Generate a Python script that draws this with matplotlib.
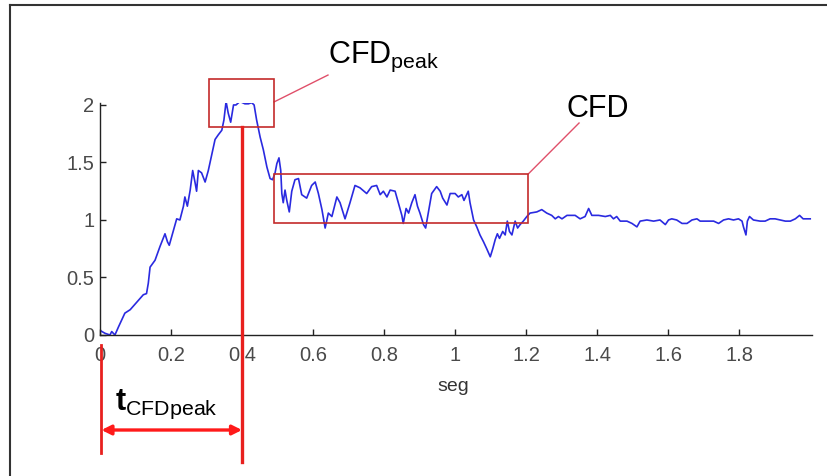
import matplotlib
matplotlib.use("Agg")
import matplotlib.pyplot as plt
from matplotlib.patches import Rectangle, FancyArrowPatch
from matplotlib.lines import Line2D

plt.rcParams['font.family'] = ['Liberation Sans', 'DejaVu Sans']
plt.rcParams['mathtext.fontset'] = 'custom'
plt.rcParams['mathtext.rm'] = 'Liberation Sans'
plt.rcParams['mathtext.it'] = 'Liberation Sans:italic'
plt.rcParams['mathtext.bf'] = 'Liberation Sans:bold'

# ---- data ----
t = [0.0, 0.014, 0.028, 0.033, 0.042, 0.052, 0.07, 0.085, 0.108, 0.122, 0.131, 0.136,
     0.141, 0.155, 0.169, 0.183, 0.19, 0.195, 0.207, 0.216, 0.225, 0.235, 0.239, 0.246,
     0.254, 0.261, 0.268, 0.272, 0.277, 0.286, 0.296, 0.305, 0.315, 0.324, 0.333, 0.343,
     0.349, 0.355, 0.361, 0.368, 0.376, 0.383, 0.394, 0.408, 0.418, 0.427, 0.434, 0.441,
     0.451, 0.46, 0.47, 0.479, 0.486, 0.493, 0.498, 0.504, 0.509, 0.512, 0.516, 0.521,
     0.526, 0.533, 0.54, 0.549, 0.559, 0.568, 0.582, 0.596, 0.606, 0.615, 0.625, 0.634,
     0.643, 0.653, 0.667, 0.676, 0.69, 0.704, 0.718, 0.732, 0.751, 0.765, 0.779, 0.789,
     0.798, 0.808, 0.817, 0.831, 0.84, 0.85, 0.854, 0.862, 0.869, 0.878, 0.887, 0.894,
     0.901, 0.911, 0.917, 0.925, 0.934, 0.948, 0.958, 0.965, 0.977, 0.986, 1.0, 1.009,
     1.019, 1.025, 1.037, 1.042, 1.052, 1.061, 1.07, 1.08, 1.089, 1.099, 1.106, 1.113,
     1.119, 1.125, 1.134, 1.141, 1.147, 1.153, 1.16, 1.169, 1.176, 1.183, 1.192, 1.202,
     1.211, 1.23, 1.244, 1.258, 1.272, 1.282, 1.291, 1.301, 1.315, 1.338, 1.352, 1.366,
     1.376, 1.385, 1.404, 1.423, 1.437, 1.446, 1.455, 1.465, 1.484, 1.498, 1.512, 1.521,
     1.54, 1.559, 1.577, 1.592, 1.601, 1.61, 1.624, 1.639, 1.653, 1.667, 1.681, 1.69,
     1.709, 1.728, 1.742, 1.756, 1.77, 1.784, 1.798, 1.808, 1.812, 1.819, 1.823, 1.829,
     1.84, 1.859, 1.873, 1.887, 1.901, 1.915, 1.93, 1.944, 1.958, 1.97, 1.98, 1.989, 2.0]
cfd = [0.04, 0.015, 0.0, 0.03, 0.0, 0.07, 0.19, 0.22, 0.30, 0.35, 0.36, 0.45,
       0.59, 0.65, 0.77, 0.88, 0.81, 0.78, 0.91, 1.01, 1.00, 1.12, 1.20, 1.12,
       1.26, 1.43, 1.32, 1.25, 1.43, 1.41, 1.33, 1.43, 1.57, 1.70, 1.74, 1.78,
       1.87, 2.03, 1.93, 1.85, 2.0, 2.0, 2.03, 2.01, 2.01, 2.02, 2.0, 1.87,
       1.72, 1.61, 1.46, 1.36, 1.35, 1.41, 1.49, 1.54, 1.43, 1.23, 1.15, 1.26,
       1.17, 1.07, 1.25, 1.35, 1.36, 1.22, 1.19, 1.30, 1.33, 1.23, 1.09, 0.93,
       1.06, 1.03, 1.20, 1.15, 1.01, 1.15, 1.30, 1.28, 1.23, 1.29, 1.30, 1.22,
       1.25, 1.20, 1.26, 1.25, 1.15, 1.04, 0.97, 1.10, 1.06, 1.15, 1.22, 1.12,
       1.06, 0.96, 0.93, 1.07, 1.23, 1.29, 1.25, 1.19, 1.13, 1.23, 1.23, 1.20,
       1.22, 1.17, 1.25, 1.15, 1.00, 0.94, 0.87, 0.81, 0.75, 0.68, 0.75, 0.83,
       0.88, 0.84, 0.90, 0.87, 0.99, 0.90, 0.87, 0.99, 0.93, 0.96, 0.99, 1.03,
       1.06, 1.07, 1.09, 1.06, 1.04, 1.01, 1.03, 1.01, 1.04, 1.04, 1.01, 1.03,
       1.10, 1.04, 1.04, 1.03, 1.04, 1.01, 1.03, 0.99, 0.99, 0.97, 0.94, 0.99,
       1.0, 0.99, 1.0, 0.96, 1.0, 1.01, 1.0, 0.97, 0.97, 1.0, 1.01, 0.99,
       0.99, 0.99, 0.97, 1.0, 1.01, 1.0, 1.01, 0.99, 0.94, 0.87, 0.99, 1.03,
       1.0, 0.99, 0.99, 1.01, 1.01, 1.0, 0.99, 0.99, 1.01, 1.04, 1.01, 1.01, 1.01]

xticks = [0, 0.2, 0.4, 0.6, 0.8, 1, 1.2, 1.4, 1.6, 1.8]
xticklabels = ['0', '0.2', '0.4', '0.6', '0.8', '1', '1.2', '1.4', '1.6', '1.8']
yticks = [0, 0.5, 1, 1.5, 2]
yticklabels = ['0', '0.5', '1', '1.5', '2']
xlabel = 'seg'

# annotation geometry (data units)
peak_box = (0.307, 1.81, 0.183, 0.42)   # x, y, w, h
cfd_box = (0.49, 0.974, 0.716, 0.426)
t_peak = 0.4

W, H = 827, 476
fig = plt.figure(figsize=(W / 100, H / 100), dpi=100)
ax = fig.add_axes([100 / W, (H - 335) / H, 712 / W, 232 / H])

ax.plot(t, cfd, color='#2a2ae0', lw=1.2)
ax.set_xlim(0, 2.005)
ax.set_ylim(0, 2.017)
ax.set_xticks(xticks)
ax.set_xticklabels(xticklabels)
ax.set_yticks(yticks)
ax.set_yticklabels(yticklabels)
for s in ['top', 'right']:
    ax.spines[s].set_visible(False)
for s in ['left', 'bottom']:
    ax.spines[s].set_linewidth(1.0)
    ax.spines[s].set_color('#222222')
ax.tick_params(direction='in', length=4, width=1, color='#222222',
               labelsize=14.5, labelcolor='#4a4a4a')
ax.tick_params(axis='x', pad=8)
ax.tick_params(axis='y', pad=4)
ax.set_xlabel(xlabel, fontsize=14, color='#333333')
ax.xaxis.set_label_coords(0.496, -0.185)

red_box = '#c42b2b'
red_conn = '#e0506a'
red_thick = '#e8201e'

# boxes
ax.add_patch(Rectangle(peak_box[:2], peak_box[2], peak_box[3], fill=False,
                       ec=red_box, lw=1.2, clip_on=False, zorder=3))
ax.add_patch(Rectangle(cfd_box[:2], cfd_box[2], cfd_box[3], fill=False,
                       ec=red_box, lw=1.2, clip_on=False, zorder=3))
# connectors
ax.add_line(Line2D([peak_box[0] + peak_box[2], 0.642], [2.026, 2.26],
                   color=red_conn, lw=1.0, clip_on=False))
ax.add_line(Line2D([cfd_box[0] + cfd_box[2], 1.349], [cfd_box[1] + cfd_box[3], 1.843],
                   color=red_conn, lw=1.0, clip_on=False))
# vertical markers
ax.add_line(Line2D([0.004, 0.004], [-0.09, -1.03], color=red_thick, lw=2.0,
                   clip_on=False, zorder=4))
ax.add_line(Line2D([t_peak, t_peak], [peak_box[1], -1.10], color=red_thick, lw=2.4,
                   clip_on=False, zorder=4))
# double arrow
arr = FancyArrowPatch((0.004, -0.826), (t_peak, -0.826), arrowstyle='<|-|>',
                      mutation_scale=14, color='#ff1a1a', lw=2.4, clip_on=False,
                      shrinkA=0, shrinkB=0)
ax.add_patch(arr)

# labels
ax.text(0.642, 2.365, r'$\mathrm{CFD}_{\mathrm{peak}}$', fontsize=22,
        va='baseline', ha='left', color='black', clip_on=False)
ax.text(1.315, 1.896, 'CFD', fontsize=22, va='baseline', ha='left',
        color='black', clip_on=False)
ax.text(0.042, -0.652, r'$\mathbf{t}_{\mathrm{CFDpeak}}$', fontsize=22,
        va='baseline', ha='left', color='black', clip_on=False)

# outer frame
fig.add_artist(Line2D([10 / W, 10 / W], [0, (H - 5) / H], color='#333333', lw=1.5))
fig.add_artist(Line2D([10 / W, 1], [(H - 5) / H, (H - 5) / H], color='#333333', lw=1.5))

fig.savefig('out.png', dpi=100)
